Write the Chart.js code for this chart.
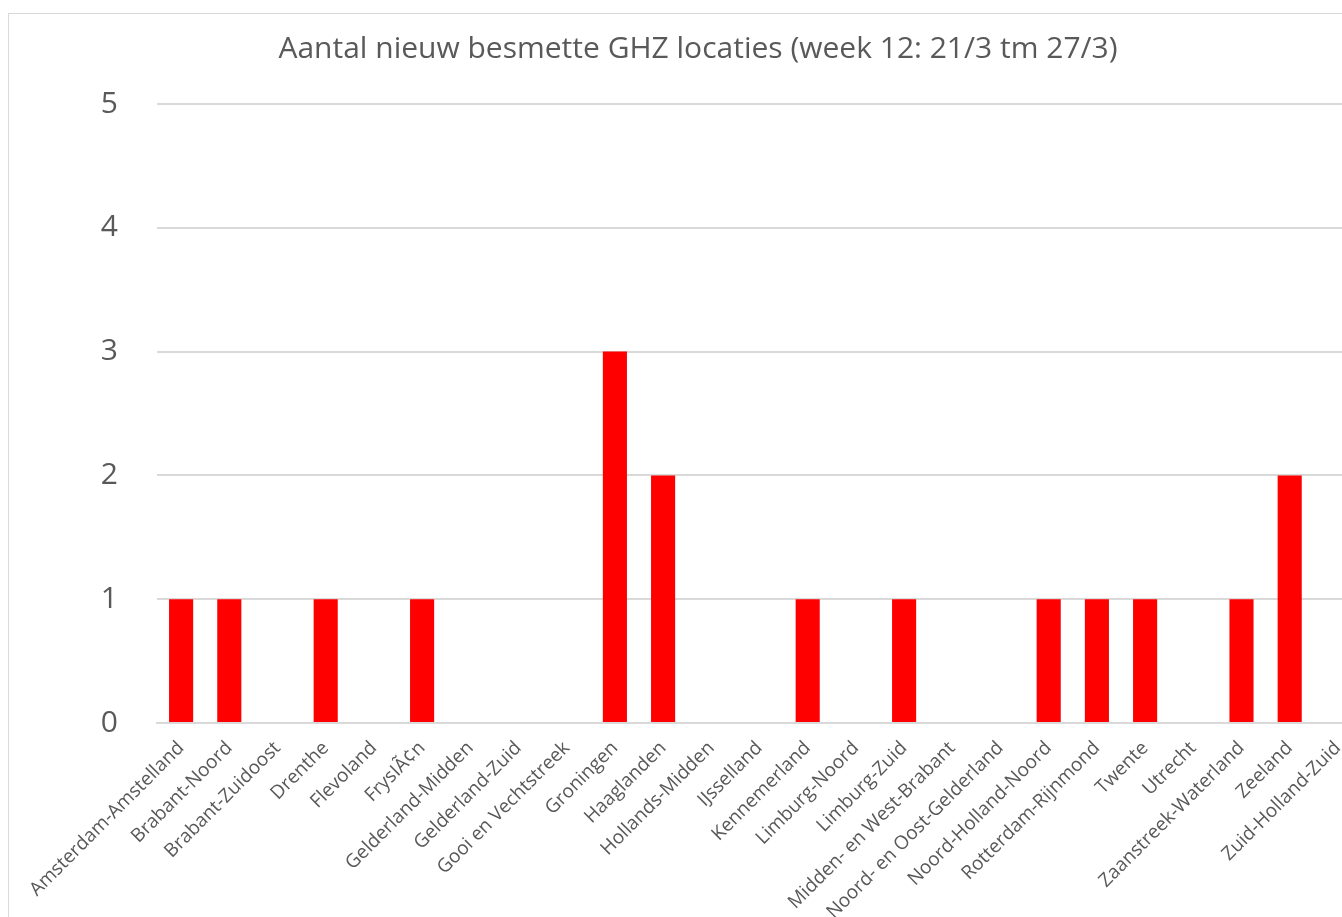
<!DOCTYPE html>
<html>
<head>
<meta charset="utf-8">
<script src="https://cdn.jsdelivr.net/npm/chart.js@4.4.1/dist/chart.umd.min.js"></script>
<style>
  html, body { margin: 0; padding: 0; background: #fff; overflow: hidden; width: 1342px; height: 917px; }
  #frame { position: absolute; left: 8px; top: 13px; width: 1420px; height: 1000px; border: 1px solid #d9d9d9; }
  #wrap { position: absolute; left: 0; top: 0; width: 1380px; height: 917px; }
</style>
</head>
<body>
<div id="frame"></div>
<div id="wrap"><canvas id="c" width="1380" height="917"></canvas></div>
<script>
const categories = [
  "Amsterdam-Amstelland", "Brabant-Noord", "Brabant-Zuidoost", "Drenthe", "Flevoland",
  "FrysIÃ¢n", "Gelderland-Midden", "Gelderland-Zuid", "Gooi en Vechtstreek", "Groningen",
  "Haaglanden", "Hollands-Midden", "IJsselland", "Kennemerland", "Limburg-Noord",
  "Limburg-Zuid", "Midden- en West-Brabant", "Noord- en Oost-Gelderland", "Noord-Holland-Noord",
  "Rotterdam-Rijnmond", "Twente", "Utrecht", "Zaanstreek-Waterland", "Zeeland", "Zuid-Holland-Zuid"
];
const newLocations = [1, 1, 0, 1, 0, 1, 0, 0, 0, 3, 2, 0, 0, 1, 0, 1, 0, 0, 1, 1, 1, 0, 1, 2, 0];
const yTicks = [0, 1, 2, 3, 4, 5];
const titleText = "Aantal nieuw besmette GHZ locaties (week 12: 21/3 tm 27/3)";

const FONT = "'Open Sans', 'DejaVu Sans', sans-serif";
const TXT = "#595959";

new Chart(document.getElementById("c"), {
  type: "bar",
  data: {
    labels: categories,
    datasets: [{
      label: "Nieuw besmette locaties",
      data: newLocations,
      backgroundColor: "#ff0000",
      borderWidth: 0,
      barPercentage: 0.5,
      categoryPercentage: 1.0
    }]
  },
  options: {
    responsive: false,
    animation: false,
    layout: { padding: { left: 34, right: 18, top: 0, bottom: 0 } },
    plugins: {
      legend: { display: false },
      tooltip: { enabled: false },
      title: {
        display: true,
        text: titleText,
        color: TXT,
        font: { family: FONT, size: 30, weight: "normal", lineHeight: 1.2 },
        padding: { top: 31, bottom: 37 }
      }
    },
    scales: {
      x: {
        grid: { display: false, drawTicks: false },
        border: { display: true, color: "#d9d9d9", width: 2 },
        ticks: {
          color: TXT,
          font: { family: FONT, size: 19 },
          maxRotation: 45,
          minRotation: 45,
          autoSkip: false,
          padding: 14
        },
        afterFit: (s) => { s.height = 194; }
      },
      y: {
        min: 0,
        max: 5,
        afterBuildTicks: (s) => { s.ticks = yTicks.map(v => ({ value: v })); },
        grid: { color: "#d9d9d9", lineWidth: 2, drawTicks: false },
        border: { display: false },
        ticks: {
          color: TXT,
          font: { family: FONT, size: 30 },
          padding: 39
        },
        afterFit: (s) => { s.width = 123; }
      }
    }
  }
});
</script>
</body>
</html>
